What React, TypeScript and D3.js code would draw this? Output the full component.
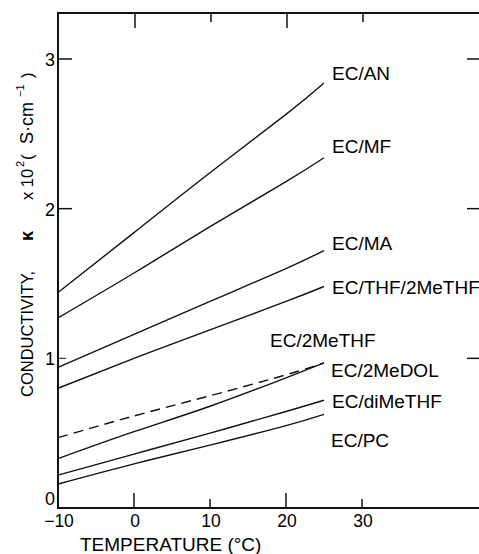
import * as d3 from 'd3';
import { useRef, useEffect } from 'react';

// temperatures (°C) where values were read
const temps = [-10, 0, 10, 20, 25];

// conductivity x 10^2 (S/cm)
const ecAN = [1.44, 1.84, 2.24, 2.63, 2.84];
const ecMF = [1.27, 1.57, 1.88, 2.18, 2.34];
const ecMA = [0.94, 1.16, 1.38, 1.6, 1.72];
const ecTHF2MeTHF = [0.8, 1.0, 1.19, 1.38, 1.48];
const ec2MeTHF = [0.47, 0.615, 0.75, 0.89, 0.97];
const ec2MeDOL = [0.33, 0.51, 0.68, 0.87, 0.97];
const ecDiMeTHF = [0.22, 0.36, 0.5, 0.645, 0.72];
const ecPC = [0.16, 0.295, 0.42, 0.55, 0.625];

const xTicks = [-10, 0, 10, 20, 30];
const yTicks = [0, 1, 2, 3];

export default function App() {
    const ref = useRef<SVGSVGElement>(null);

    useEffect(() => {
        const width = 479;
        const height = 554;
        const svg = d3.select(ref.current);
        svg.selectAll('*').remove();

        const x = d3.scaleLinear().domain([-10, 30]).range([58, 362]);
        const y = d3.scaleLinear().domain([0, 3]).range([508, 59]);
        const top = 13;
        const right = 483;
        const font = '"Liberation Sans", Arial, sans-serif';

        const series = [
            { name: 'EC/AN', values: ecAN, lx: 332, ly: 80 },
            { name: 'EC/MF', values: ecMF, lx: 332, ly: 153 },
            { name: 'EC/MA', values: ecMA, lx: 332, ly: 250 },
            { name: 'EC/THF/2MeTHF', values: ecTHF2MeTHF, lx: 332, ly: 294 },
            { name: 'EC/2MeTHF', values: ec2MeTHF, lx: 270, ly: 347, dashed: true },
            { name: 'EC/2MeDOL', values: ec2MeDOL, lx: 331, ly: 377 },
            { name: 'EC/diMeTHF', values: ecDiMeTHF, lx: 332, ly: 408 },
            { name: 'EC/PC', values: ecPC, lx: 331, ly: 447 },
        ];

        // frame
        svg.append('path')
            .attr('d', `M${x(-10)},${top}H${right}M${x(-10)},${top - 1}V${y(0)}H${right}M${right},${top}V${y(0)}`)
            .attr('fill', 'none')
            .attr('stroke', '#111')
            .attr('stroke-width', 2);

        // inward ticks on top and bottom, alternating length
        xTicks.filter(t => t > -10).forEach((t, i) => {
            const len = i % 2 === 0 ? 15 : 9;
            svg.append('line')
                .attr('x1', x(t)).attr('x2', x(t))
                .attr('y1', y(0)).attr('y2', y(0) - len)
                .attr('stroke', '#111').attr('stroke-width', 1.5);
            svg.append('line')
                .attr('x1', x(t) + 1).attr('x2', x(t) + 1)
                .attr('y1', top).attr('y2', top + len)
                .attr('stroke', '#111').attr('stroke-width', 1.5);
        });

        // left and right ticks
        yTicks.filter(v => v > 0).forEach(v => {
            svg.append('line')
                .attr('x1', x(-10)).attr('x2', x(-10) + (v === 1 ? 8 : 14))
                .attr('y1', y(v)).attr('y2', y(v))
                .attr('stroke', '#111').attr('stroke-width', v === 1 ? 1 : 1.5);
            svg.append('line')
                .attr('x1', 467).attr('x2', right)
                .attr('y1', y(v)).attr('y2', y(v))
                .attr('stroke', '#111').attr('stroke-width', 1.5);
        });

        // tick labels
        svg.selectAll('.xlab')
            .data(xTicks)
            .enter().append('text')
            .attr('x', d => x(d) + 1)
            .attr('y', 527)
            .attr('text-anchor', 'middle')
            .style('font-family', font)
            .style('font-size', '17.5px')
            .text(d => (d < 0 ? '\u2212' + Math.abs(d) : String(d)));

        svg.selectAll('.ylab')
            .data(yTicks)
            .enter().append('text')
            .attr('x', 55)
            .attr('y', d => (d === 0 ? y(d) - 3 : y(d) + 7))
            .attr('text-anchor', 'end')
            .style('font-family', font)
            .style('font-size', '18px')
            .text(d => String(d));

        // data lines
        const line = d3.line<number>()
            .x((_, i) => x(temps[i]))
            .y(d => y(d))
            .curve(d3.curveNatural);

        series.forEach(s => {
            svg.append('path')
                .datum(s.values)
                .attr('fill', 'none')
                .attr('stroke', '#111')
                .attr('stroke-width', 1.4)
                .attr('stroke-dasharray', s.dashed ? '10 6' : null)
                .attr('d', line);
            svg.append('text')
                .attr('x', s.lx)
                .attr('y', s.ly)
                .style('font-family', font)
                .style('font-size', '19px')
                .text(s.name);
        });

        // x axis title
        svg.append('text')
            .attr('x', 80)
            .attr('y', 551)
            .style('font-family', font)
            .style('font-size', '19px')
            .text('TEMPERATURE (°C)');

        // y axis title, pieces placed along the rotated axis
        const yt = svg.append('g')
            .attr('transform', 'translate(33,0) rotate(-90)')
            .style('font-family', font)
            .style('font-size', '16.5px');
        yt.append('text').attr('x', -397).attr('y', 0).text('CONDUCTIVITY,');
        yt.append('text').attr('x', -241).attr('y', 0)
            .style('font-weight', 'bold').style('font-size', '18px').text('κ');
        yt.append('text').attr('x', -200).attr('y', 0).text('x 10');
        yt.append('text').attr('x', -167).attr('y', -9).style('font-size', '11px').text('2');
        yt.append('text').attr('x', -160).attr('y', 0).text('(');
        yt.append('text').attr('x', -144).attr('y', 0).style('font-size', '18px').text('S·cm');
        yt.append('text').attr('x', -97).attr('y', -9).style('font-size', '11px').text('−1');
        yt.append('text').attr('x', -78).attr('y', 0).text(')');

        svg.attr('width', width).attr('height', height);
    }, []);

    return (
        <svg ref={ref} width={479} height={554}
            style={{ position: 'absolute', left: 0, top: 0, background: '#fff' }}></svg>
    );
}
